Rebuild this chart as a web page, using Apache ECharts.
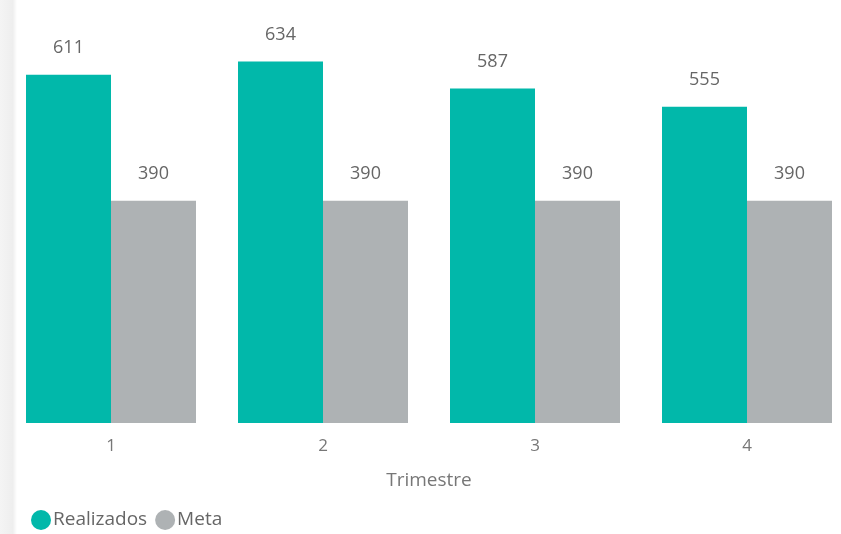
<!DOCTYPE html>
<html><head><meta charset="utf-8">
<script src="https://cdn.jsdelivr.net/npm/echarts@6/dist/echarts.min.js"></script>
<style>html,body{margin:0;padding:0;background:#fff;overflow:hidden}#c{width:860px;height:534px}</style>
</head><body><div id="c"></div>
<script>
const categories = ['1', '2', '3', '4'];
const realizados = [611, 634, 587, 555];
const meta = [390, 390, 390, 390];
const seriesNames = ['Realizados', 'Meta'];

const chart = echarts.init(document.getElementById('c'), null, {renderer: 'canvas'});
const labelStyle = {show: true, position: 'top', distance: 18, color: '#666', fontSize: 18, fontFamily: 'Open Sans'};
chart.setOption({
  animation: false,
  graphic: [{
    type: 'rect', left: 0, top: 0, z: -1,
    shape: {width: 17, height: 534},
    style: {fill: new echarts.graphic.LinearGradient(0, 0, 1, 0, [{offset: 0, color: '#f4f4f4'}, {offset: 0.75, color: '#eeeeee'}, {offset: 1, color: '#ffffff'}])}
  }],
  legend: {
    left: 26, top: 505, icon: 'circle', itemWidth: 20, itemHeight: 20, itemGap: 8,
    textStyle: {color: '#666', fontSize: 19, fontFamily: 'Open Sans', padding: [0, 0, 0, -3]},
    data: seriesNames
  },
  grid: {left: 5, right: 7, top: 24, bottom: 111, containLabel: false},
  xAxis: {
    type: 'category', data: categories,
    axisLine: {show: false}, axisTick: {show: false},
    axisLabel: {color: '#777', fontSize: 17, fontFamily: 'Open Sans', margin: 15},
    name: 'Trimestre', nameLocation: 'middle', nameGap: 48,
    nameTextStyle: {color: '#777', fontSize: 19, fontFamily: 'Open Sans'}
  },
  yAxis: {type: 'value', min: 0, max: 700, show: false, splitLine: {show: false}},
  series: [
    {name: seriesNames[0], type: 'bar', data: realizados, barWidth: 85, barGap: '0%', barCategoryGap: '19.8%', itemStyle: {color: '#01B8AA'}, label: labelStyle},
    {name: seriesNames[1], type: 'bar', data: meta, barWidth: 85, itemStyle: {color: '#AEB2B4'}, label: labelStyle}
  ]
});
</script></body></html>
